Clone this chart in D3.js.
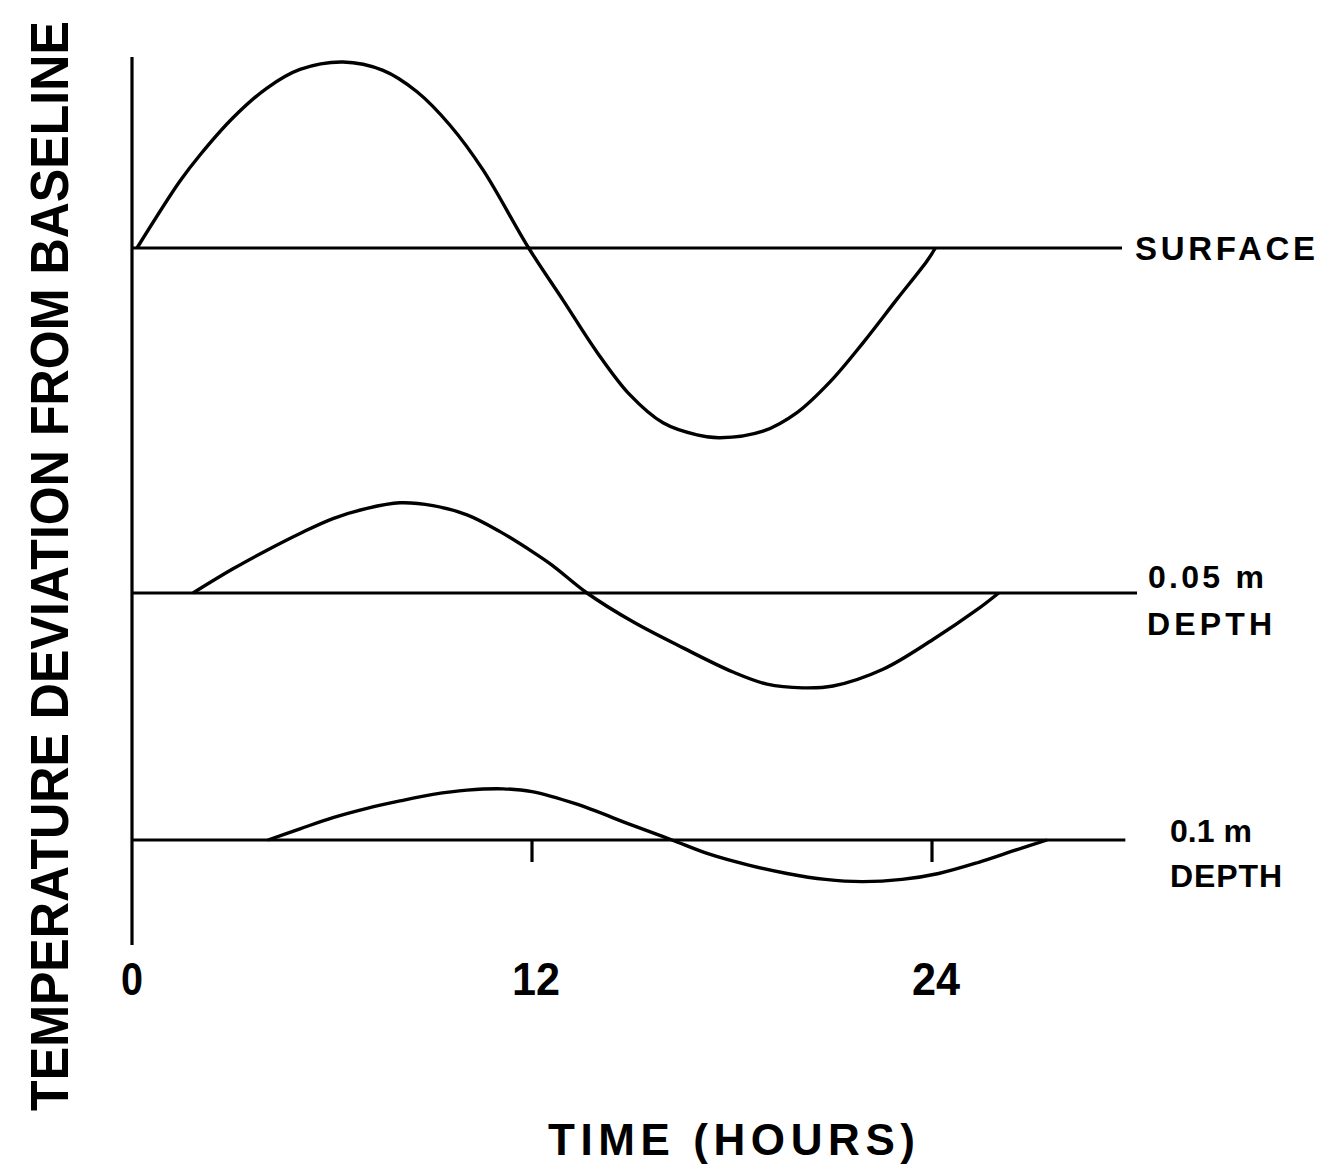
<!DOCTYPE html>
<html>
<head>
<meta charset="utf-8">
<script src="https://cdn.jsdelivr.net/npm/d3@7"></script>
<style>
  body { margin: 0; background: #fff; }
  svg { display: block; }
  .lbl { font-family: "Liberation Sans", Arial, sans-serif; font-weight: bold; fill: #000; }
</style>
</head>
<body>
<svg id="chart"></svg>
<script>
// hours, deviation in arbitrary units (surface peak ~ 10)
var surface_hours = [0.15, 1.44, 2.04, 3.03, 4.05, 5.04, 6.33, 7.53, 8.55, 9.54, 10.53, 11.9, 12.93, 13.95, 14.94, 15.93, 16.95, 17.64, 18.93, 19.95, 20.94, 21.93, 22.95, 23.85, 24.1];
var surface_dev   = [0, 3.6, 5.0, 7.0, 8.6, 9.6, 10.0, 9.55, 8.4, 6.6, 4.2, 0, -2.8, -5.6, -7.9, -9.4, -10.05, -10.2, -9.85, -8.85, -7.2, -5.1, -2.75, -0.7, 0];

var d005_hours = [1.83, 3.03, 4.05, 5.04, 6.03, 7.05, 8.04, 9.03, 10.05, 11.04, 12.03, 12.6, 13.65, 15.03, 16.53, 18.03, 19.05, 20.13, 21.03, 22.53, 24.03, 25.35, 26.0];
var d005_dev   = [0, 1.3, 2.3, 3.2, 4.0, 4.55, 4.85, 4.7, 4.2, 3.3, 2.2, 1.5, 0, -1.55, -2.95, -4.25, -4.9, -5.1, -5.0, -4.1, -2.5, -0.9, 0];

var d01_hours = [4.08, 5.04, 6.03, 7.05, 8.04, 9.03, 10.05, 11.13, 12.0, 13.3, 15.0, 16.2, 17.3, 18.5, 19.65, 20.8, 21.9, 23.1, 24.2, 25.4, 26.5, 27.45];
var d01_dev   = [0, 0.6, 1.2, 1.7, 2.1, 2.45, 2.68, 2.75, 2.6, 1.95, 0.8, 0, -0.75, -1.35, -1.8, -2.12, -2.24, -2.12, -1.8, -1.2, -0.55, 0];

var series_names = ["SURFACE", "0.05 m", "0.1 m"];
var baseline_end_hours = [29.7, 30.15, 29.8];
var x_ticks = [0, 12, 24];
var tick_marks = [12, 24]; // small ticks on the lowest baseline
var x_title = "TIME (HOURS)";
var y_title = "TEMPERATURE DEVIATION FROM BASELINE";

var width = 1329, height = 1165;
var svg = d3.select("#chart").attr("width", width).attr("height", height);

/** x scale: 0 h at the axis, 12 h per 400 px */
var x = d3.scaleLinear().domain([0, 24]).range([132, 932]);

/** one y scale per trace, same px per unit, different baseline */
var baselinesPx = [248, 593, 840];
var pxPerUnit = 18.6;
var yScales = baselinesPx.map(function (b) {
    return d3.scaleLinear().domain([-10, 10]).range([b + 10 * pxPerUnit, b - 10 * pxPerUnit]);
});

var traces = [
    d3.zip(surface_hours, surface_dev),
    d3.zip(d005_hours, d005_dev),
    d3.zip(d01_hours, d01_dev)
];

/** vertical axis */
svg.append("line")
    .attr("x1", x(0)).attr("x2", x(0))
    .attr("y1", 57).attr("y2", 945)
    .attr("stroke", "#000").attr("stroke-width", 3.2);

/** baselines */
svg.selectAll(".baseline")
    .data(baseline_end_hours)
    .join("line")
    .attr("class", "baseline")
    .attr("x1", x(0))
    .attr("x2", function (d) { return x(d); })
    .attr("y1", function (d, i) { return yScales[i](0); })
    .attr("y2", function (d, i) { return yScales[i](0); })
    .attr("stroke", "#000").attr("stroke-width", 2.8);

/** tick marks hanging from the 0.1 m baseline */
svg.selectAll(".tickmark")
    .data(tick_marks)
    .join("line")
    .attr("class", "tickmark")
    .attr("x1", function (d) { return x(d); })
    .attr("x2", function (d) { return x(d); })
    .attr("y1", yScales[2](0))
    .attr("y2", yScales[2](0) + 22)
    .attr("stroke", "#000").attr("stroke-width", 3.2);

/** the curves */
svg.selectAll(".trace")
    .data(traces)
    .join("path")
    .attr("class", "trace")
    .attr("fill", "none")
    .attr("stroke", "#000")
    .attr("stroke-width", 3.4)
    .attr("stroke-linejoin", "round")
    .attr("d", function (d, i) {
        return d3.line()
            .curve(d3.curveCatmullRom.alpha(0.5))
            .x(function (p) { return x(p[0]); })
            .y(function (p) { return yScales[i](p[1]); })(d);
    });

/** labels at the right */
svg.append("text").attr("class", "lbl")
    .attr("x", 1135).attr("y", yScales[0](0) + 12)
    .attr("font-size", 33).attr("textLength", 180).attr("lengthAdjust", "spacing")
    .text(series_names[0]);

svg.append("text").attr("class", "lbl")
    .attr("x", 1148).attr("y", yScales[1](0) - 5)
    .attr("font-size", 32).attr("textLength", 116).attr("lengthAdjust", "spacing")
    .text(series_names[1]);
svg.append("text").attr("class", "lbl")
    .attr("x", 1147).attr("y", yScales[1](0) + 42)
    .attr("font-size", 32).attr("textLength", 125).attr("lengthAdjust", "spacing")
    .text("DEPTH");

svg.append("text").attr("class", "lbl")
    .attr("x", 1170).attr("y", yScales[2](0) + 2)
    .attr("font-size", 32).attr("textLength", 82).attr("lengthAdjust", "spacing")
    .text(series_names[2]);
svg.append("text").attr("class", "lbl")
    .attr("x", 1170).attr("y", yScales[2](0) + 47)
    .attr("font-size", 32).attr("textLength", 112).attr("lengthAdjust", "spacing")
    .text("DEPTH");

/** x tick labels, squeezed to look condensed */
svg.selectAll(".xtick")
    .data(x_ticks)
    .join("text")
    .attr("class", "xtick lbl")
    .attr("x", function (d) { return x(d) + (d === 0 ? -11 : -20); })
    .attr("y", 995)
    .attr("font-size", 46)
    .attr("textLength", function (d) { return d < 10 ? 22 : 48; })
    .attr("lengthAdjust", "spacingAndGlyphs")
    .text(function (d) { return d; });

/** axis titles */
svg.append("text").attr("class", "lbl")
    .attr("x", 548).attr("y", 1155)
    .attr("font-size", 44).attr("textLength", 367).attr("lengthAdjust", "spacing")
    .text(x_title);

/** y title: condensed by a horizontal scale so it spans ~1090 px */
var yt = svg.append("text").attr("class", "lbl")
    .attr("text-anchor", "middle")
    .attr("font-size", 54)
    .text(y_title);
var sx = 1090 / yt.node().getComputedTextLength();
yt.attr("transform", "translate(68,566) rotate(-90) scale(" + sx + ",1)");
</script>
</body>
</html>
